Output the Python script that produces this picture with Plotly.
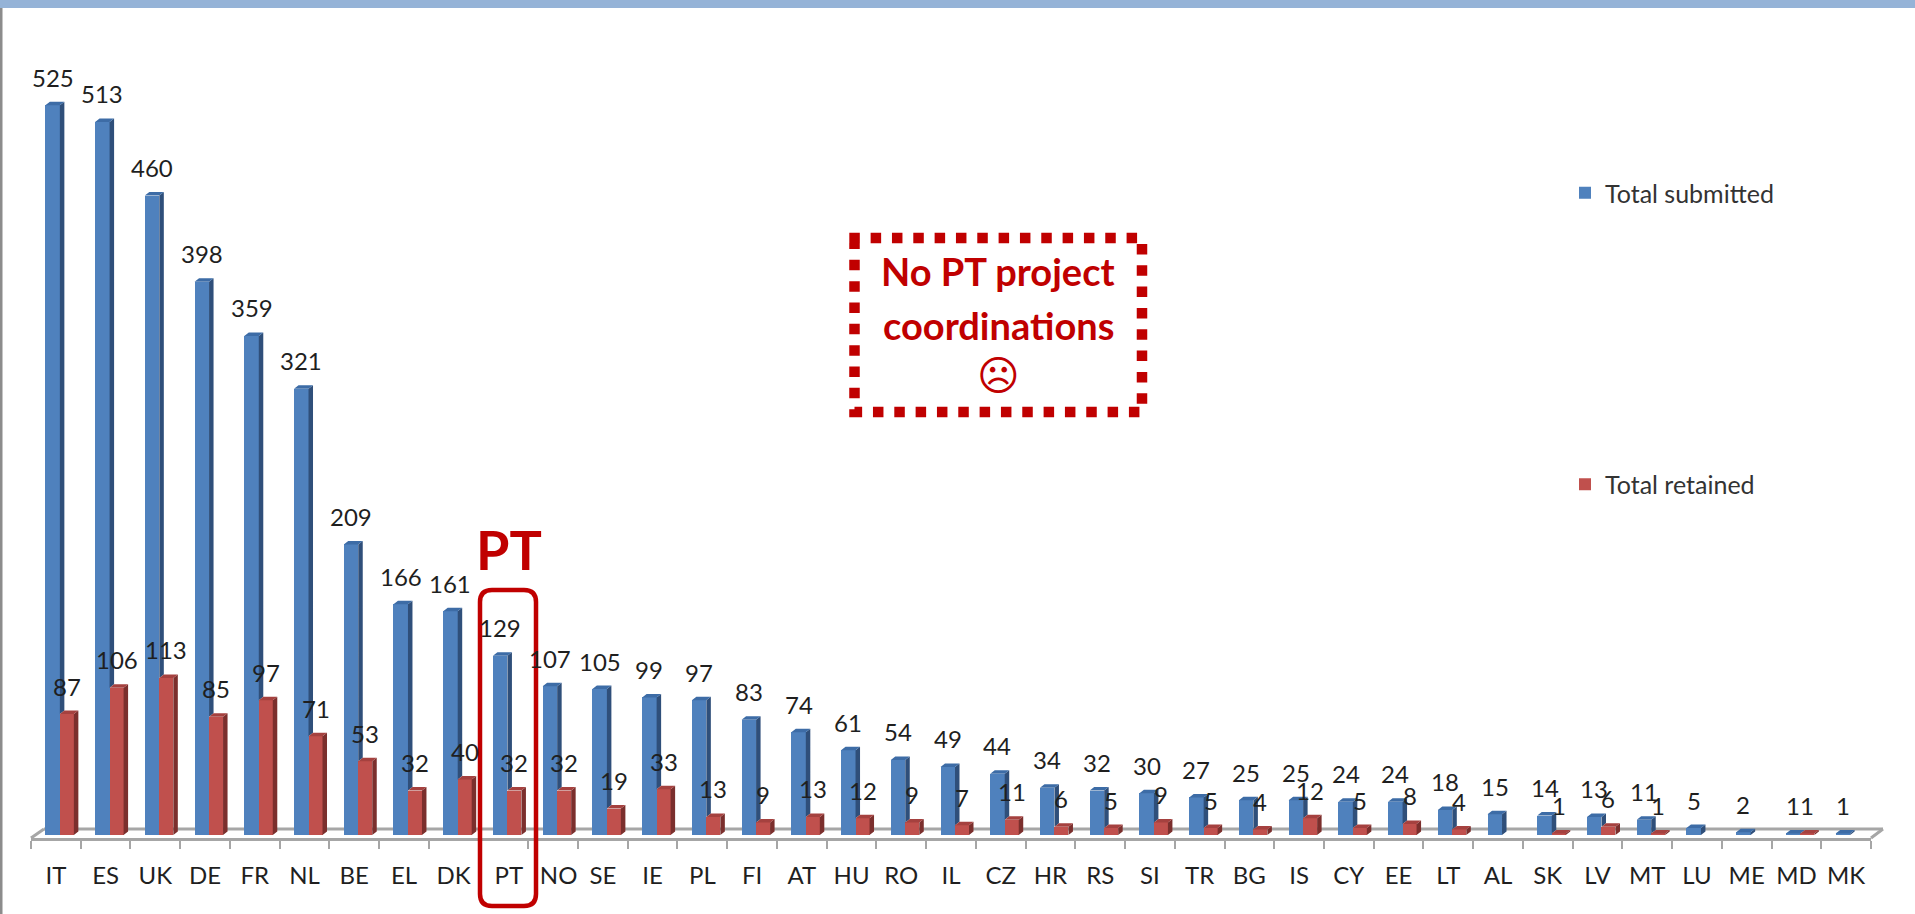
import plotly.graph_objects as go

categories = ["IT","ES","UK","DE","FR","NL","BE","EL","DK","PT","NO","SE","IE","PL","FI","AT","HU","RO","IL","CZ",
              "HR","RS","SI","TR","BG","IS","CY","EE","LT","AL","SK","LV","MT","LU","ME","MD","MK"]
submitted = [525,513,460,398,359,321,209,166,161,129,107,105,99,97,83,74,61,54,49,44,
             34,32,30,27,25,25,24,24,18,15,14,13,11,5,2,1,1]
retained = [87,106,113,85,97,71,53,32,40,32,32,19,33,13,9,13,12,9,7,11,
            6,5,9,5,4,12,5,8,4,0,1,6,1,0,0,1,0]

W, H = 1915, 914
L, R, BOTTOM = 31, 1871, 838      # plot area edges in page pixels
BASE = 835                        # pixel row of value 0
PY = 1.39                         # pixels per unit of value
PX = (R - L) / len(categories)    # pixels per category
DX, DY = 4.5 / PX, 3.5 / PY       # depth of the 3D look
F_BLUE0, F_BLUE1 = -10.5 / PX, 4 / PX
F_RED0, F_RED1 = 4 / PX, 18 / PX

BLUE, BLUE_SIDE, BLUE_TOP = "#4f81bd", "#2f4f7a", "#3d6ca6"
RED, RED_SIDE, RED_TOP = "#c0504d", "#7b2f2d", "#a5413f"
ACCENT = "#c00000"
GREY = "#a6a6a6"
INK = "#1f1f1f"
FONT = "Lato, Carlito, sans-serif"

def fx(p):
    return (p - L) / (R - L)

def fy(p):
    return (BOTTOM - p) / BOTTOM

def polys(faces, color):
    xs, ys = [], []
    for face in faces:
        xs += [p[0] for p in face] + [face[0][0], None]
        ys += [p[1] for p in face] + [face[0][1], None]
    return go.Scatter(x=xs, y=ys, mode="lines", fill="toself", fillcolor=color,
                      line=dict(width=0, color=color), showlegend=False, hoverinfo="skip")

def side_top(values, x0, x1, floors):
    side, top = [], []
    for i, (v, fl) in enumerate(zip(values, floors)):
        if v <= 0:
            continue
        side.append([(i+x1, fl), (i+x1, v), (i+x1+DX, v+DY), (i+x1+DX, fl+DY)])
        top.append([(i+x0, v), (i+x1, v), (i+x1+DX, v+DY), (i+x0+DX, v+DY)])
    return side, top

fig = go.Figure()
idx = list(range(len(categories)))

fig.add_bar(x=idx, y=submitted, name="Total submitted", marker=dict(color=BLUE, line_width=0),
            width=F_BLUE1-F_BLUE0, offset=F_BLUE0, legendgroup="a")
fig.add_bar(x=idx, y=retained, name="Total retained", marker=dict(color=RED, line_width=0),
            width=F_RED1-F_RED0, offset=F_RED0, legendgroup="b")

b_side, b_top = side_top(submitted, F_BLUE0, F_BLUE1, retained)
r_side, r_top = side_top(retained, F_RED0, F_RED1, [0]*len(retained))
fig.add_trace(polys(b_side, BLUE_SIDE))
fig.add_trace(polys(b_top, BLUE_TOP))
fig.add_trace(polys(r_side, RED_SIDE))
fig.add_trace(polys(r_top, RED_TOP))

ann = []
for i, (s, r) in enumerate(zip(submitted, retained)):
    ann.append(dict(x=i+(F_BLUE0+F_BLUE1)/2, y=s, xref="x", yref="y", text=str(s), showarrow=False,
                    yshift=28, yanchor="middle", xanchor="center", font=dict(family=FONT, size=24, color=INK)))
    if r > 0:
        ann.append(dict(x=i+(F_RED0+F_RED1)/2, y=r, xref="x", yref="y", text=str(r), showarrow=False,
                        yshift=28, yanchor="middle", xanchor="center", font=dict(family=FONT, size=24, color=INK)))

def note(text, px, py, size, family=FONT, bold=True):
    label = f"<b>{text}</b>" if bold else text
    return dict(x=fx(px), y=fy(py), xref="paper", yref="paper", text=label, showarrow=False,
                xanchor="center", yanchor="middle", font=dict(family=family, size=size, color=ACCENT))

ann += [note("No PT project", 998, 271, 38), note("coordinations", 998, 325, 38),
        note("☹", 998, 376, 41, family="DejaVu Sans", bold=False), note("PT", 509, 549, 54)]

def line(x0, y0, x1, y1, color=GREY, width=3):
    return dict(type="line", xref="paper", yref="paper", x0=fx(x0), y0=fy(y0), x1=fx(x1), y1=fy(y1),
                line=dict(color=color, width=width), layer="below")

def path(points, close=False):
    return "M " + " L ".join(f"{fx(a):.5f},{fy(b):.5f}" for a, b in points) + (" Z" if close else "")

rx, ry = 12, 12
a, b, c, d = 480, 590, 536, 906
pt_box = (f"M {fx(a+rx):.5f},{fy(b):.5f} L {fx(c-rx):.5f},{fy(b):.5f} Q {fx(c):.5f},{fy(b):.5f} {fx(c):.5f},{fy(b+ry):.5f} "
          f"L {fx(c):.5f},{fy(d-ry):.5f} Q {fx(c):.5f},{fy(d):.5f} {fx(c-rx):.5f},{fy(d):.5f} "
          f"L {fx(a+rx):.5f},{fy(d):.5f} Q {fx(a):.5f},{fy(d):.5f} {fx(a):.5f},{fy(d-ry):.5f} "
          f"L {fx(a):.5f},{fy(b+ry):.5f} Q {fx(a):.5f},{fy(b):.5f} {fx(a+rx):.5f},{fy(b):.5f} Z")

shapes = [
    dict(type="rect", xref="paper", yref="paper", x0=fx(0), x1=fx(W), y0=fy(0), y1=fy(8),
         fillcolor="#95b3d7", line_width=0, layer="above"),
    dict(type="rect", xref="paper", yref="paper", x0=fx(0), x1=fx(2.5), y0=fy(8), y1=fy(H),
         fillcolor="#8c8c8c", line_width=0, layer="above"),
    line(L+13, 829, R+12, 829),
    line(L, BOTTOM, L+13, 829),
    line(R, BOTTOM, R+12, 829),
    dict(type="path", xref="paper", yref="paper", path=pt_box, line=dict(color=ACCENT, width=4.5), layer="above"),
    dict(type="path", xref="paper", yref="paper",
         path=path([(849.3, 238), (1142, 238), (1142, 412), (854.5, 412), (854.5, 243)]),
         line=dict(color=ACCENT, width=10.5, dash="10.5px,10.83px"), layer="above"),
]

# The reference sets its PT and NO axis labels slightly right of the band centre.
label_pos = [i + (0.11 if name in ("PT", "NO") else 0) for i, name in enumerate(categories)]

fig.update_layout(
    width=W, height=H, margin=dict(l=L, r=W-R, t=0, b=H-BOTTOM, pad=0),
    paper_bgcolor="white", plot_bgcolor="white", barmode="overlay", bargap=0,
    showlegend=True,
    legend=dict(x=fx(1565), y=fy(170), xanchor="left", yanchor="top", xref="paper", yref="paper",
                traceorder="grouped", tracegroupgap=256, bgcolor="rgba(0,0,0,0)",
                font=dict(family=FONT, size=25, color="#333333"), itemclick=False, itemdoubleclick=False),
    xaxis=dict(range=[-0.5, len(categories)-0.5], tickmode="array", tickvals=label_pos, ticktext=categories,
               ticks="", showgrid=False, zeroline=False, showline=True, linecolor=GREY, linewidth=3,
               tickfont=dict(family=FONT, size=24, color=INK), ticklabelstandoff=14, tickangle=0,
               minor=dict(tickmode="array", tickvals=[i-0.5 for i in range(len(categories)+1)],
                          ticks="outside", ticklen=8, tickwidth=2, tickcolor=GREY, showgrid=False)),
    yaxis=dict(range=[(BASE-BOTTOM)/PY, BASE/PY], visible=False),
    shapes=shapes, annotations=ann, hovermode=False,
)
fig.write_html("out.html", config=dict(displayModeBar=False),
               post_script="document.body.style.margin='0';document.body.style.overflow='hidden';")
